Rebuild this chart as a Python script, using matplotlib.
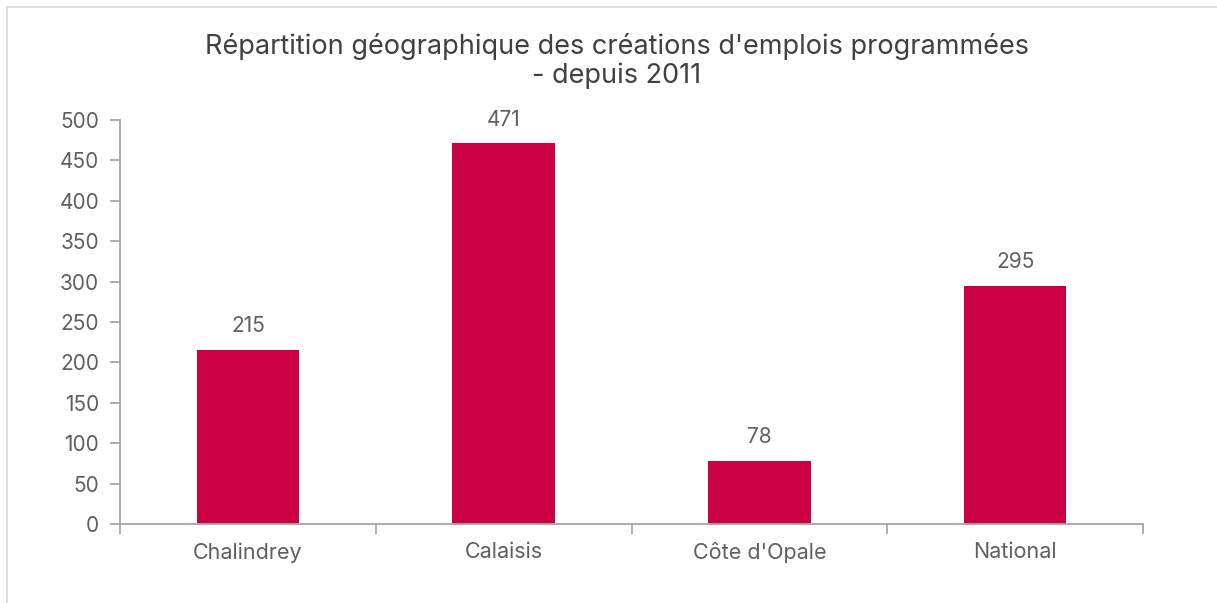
import matplotlib.pyplot as plt
from matplotlib.lines import Line2D

# Données
regions = ["Chalindrey", "Calaisis", "Côte d'Opale", "National"]
emplois = [215, 471, 78, 295]
graduations = [0, 50, 100, 150, 200, 250, 300, 350, 400, 450, 500]

couleur_barre = "#CC0044"
gris_axe = "#A6A6A6"
gris_texte = "#5F5F5F"

plt.rcParams["font.family"] = ["Inter", "DejaVu Sans"]

fig = plt.figure(figsize=(12.17, 6.03), dpi=100)
ax = fig.add_axes([120 / 1217, 1 - 524 / 603, 1023 / 1217, 404 / 603])

x = list(range(len(regions)))
barres = ax.bar(x, emplois, width=0.4, color=couleur_barre, zorder=2)

for xi, v in zip(x, emplois):
    ax.annotate(str(v), (xi, v), xytext=(0, 10), textcoords="offset points",
                ha="center", va="bottom", fontsize=15, color=gris_texte)

ax.set_xlim(-0.5, len(regions) - 0.5)
ax.set_ylim(0, 500)
ax.set_yticks(graduations)
ax.set_xticks(x)
ax.set_xticklabels(regions)
ax.set_xticks([i - 0.5 for i in range(len(regions) + 1)], minor=True)
ax.tick_params(axis="x", which="major", length=0, pad=13, labelsize=15.5, labelcolor=gris_texte)
ax.tick_params(axis="x", which="minor", length=7, width=1.3, color=gris_axe, direction="out")
ax.tick_params(axis="y", length=7, width=1.3, color=gris_axe, direction="out",
               labelsize=15, labelcolor=gris_texte, pad=8)

for s in ["top", "right"]:
    ax.spines[s].set_visible(False)
for s in ["left", "bottom"]:
    ax.spines[s].set_color(gris_axe)
    ax.spines[s].set_linewidth(1.3)

fig.text(617 / 1217, 1 - 61 / 603, "Répartition géographique des créations d'emplois programmées\n- depuis 2011",
         ha="center", va="center", fontsize=19.5, color="#404040", linespacing=1.08)

# cadre gris clair
fig.add_artist(Line2D([7 / 1217, 7 / 1217], [0, 1 - 7 / 603], transform=fig.transFigure,
                      color="#E0E0DA", lw=1.5))
fig.add_artist(Line2D([7 / 1217, 1], [1 - 7 / 603, 1 - 7 / 603], transform=fig.transFigure,
                      color="#E0E0DA", lw=1.5))

fig.savefig("out.png", dpi=100)
